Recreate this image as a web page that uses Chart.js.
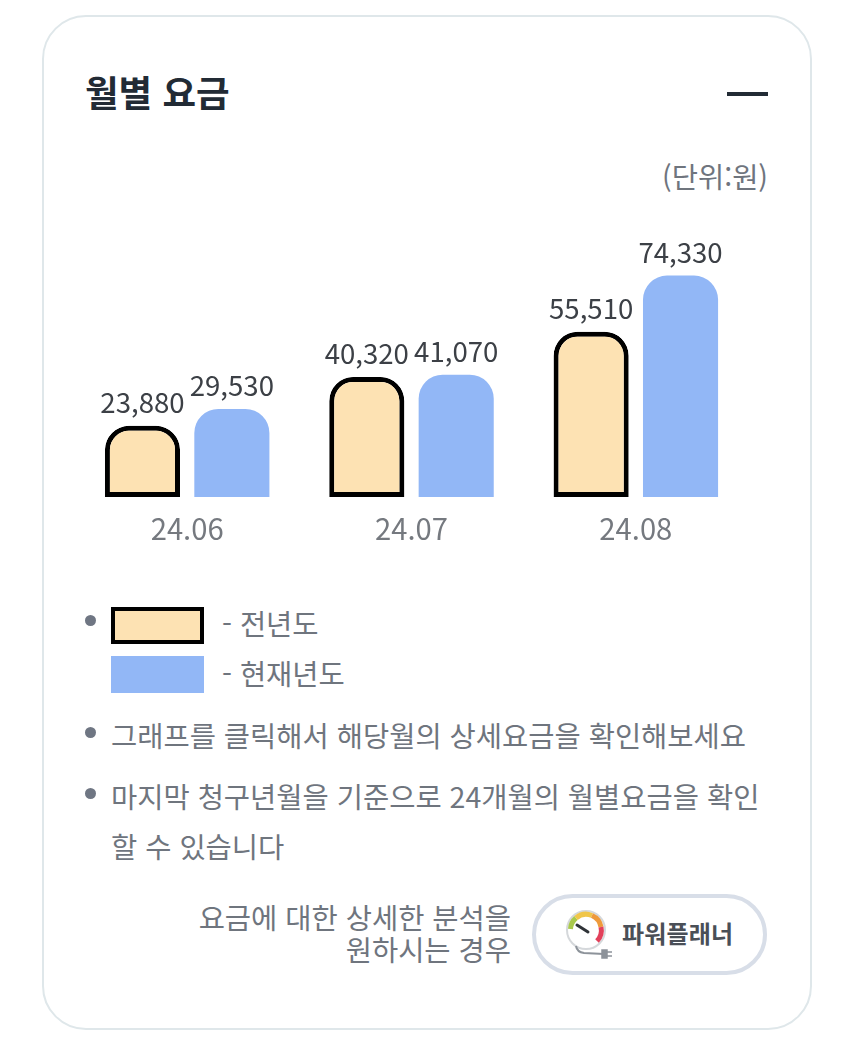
<!DOCTYPE html>
<html lang="ko"><head><meta charset="utf-8">
<script src="https://cdn.jsdelivr.net/npm/chart.js@4"></script>
<style>
html,body{margin:0;padding:0;background:#fff;width:850px;height:1050px;overflow:hidden}
body{font-family:"Noto Sans CJK KR","Noto Sans",sans-serif;position:relative;color:#6f757e}
.a{position:absolute;white-space:nowrap}
#card{left:42px;top:15px;width:766px;height:1011px;border:2px solid #dfe7ea;border-radius:44px;box-sizing:content-box}
.dot{position:absolute;width:11px;height:11px;border-radius:50%;background:#6f7683}
.t{font-size:28.5px;line-height:36px}
</style></head><body>
<div class="a" id="card"></div>
<div class="a" style="left:85px;top:67px;font-size:36.5px;line-height:50px;font-weight:700;color:#222b35">월별 요금</div>
<div class="a" style="left:727px;top:92px;width:41px;height:4px;background:#222b35"></div>
<div class="a" style="right:82px;top:158px;font-size:28.5px;line-height:36px">(단위:원)</div>
<div class="a" style="left:75px;top:220px"><canvas id="c" width="673" height="340" style="display:block;width:673px;height:340px"></canvas></div>
<div class="dot" style="left:85px;top:615px"></div>
<div class="a" style="left:111px;top:607px;width:93px;height:37px;box-sizing:border-box;border:4px solid #000;background:#fde2b3"></div>
<div class="a t" style="left:222px;top:605px">- 전년도</div>
<div class="a" style="left:111px;top:656px;width:93px;height:37px;background:#92b7f6"></div>
<div class="a t" style="left:222px;top:655px">- 현재년도</div>
<div class="dot" style="left:85px;top:727px"></div>
<div class="a t" style="left:111px;top:717px">그래프를 클릭해서 해당월의 상세요금을 확인해보세요</div>
<div class="dot" style="left:85px;top:788px"></div>
<div class="a t" style="left:111px;top:778px">마지막 청구년월을 기준으로 24개월의 월별요금을 확인</div>
<div class="a t" style="left:111px;top:828px">할 수 있습니다</div>
<div class="a" style="right:339px;top:901px;font-size:28.5px;line-height:32px;text-align:right;color:#6f757e">요금에 대한 상세한 분석을<br>원하시는 경우</div>
<div class="a" style="left:532px;top:894px;width:235px;height:81px;box-sizing:border-box;border:4px solid #d8dee8;border-radius:41px;background:#fff"></div>
<svg class="a" style="left:564px;top:908px" width="52" height="56" viewBox="0 0 52 56">
<circle cx="22" cy="22" r="19" fill="#fff" stroke="#d5d8db" stroke-width="2"/>
<path d="M6.5 21A15.5 15.5 0 0 1 12 10" fill="none" stroke="#a9c94c" stroke-width="5"/>
<path d="M12 10A15.5 15.5 0 0 1 28 7.5" fill="none" stroke="#f0c64a" stroke-width="5"/>
<path d="M28 7.5A15.5 15.5 0 0 1 37 19" fill="none" stroke="#ee9a3c" stroke-width="5"/>
<path d="M37 19A15.5 15.5 0 0 1 33 33" fill="none" stroke="#e2405a" stroke-width="5"/>
<path d="M13 17L24 24" stroke="#2f3338" stroke-width="3" stroke-linecap="round"/>
<path d="M12 38Q13 44 20 45L40 46" fill="none" stroke="#8d939a" stroke-width="2"/>
<path d="M38 42h5v8h-5zM43 44h5M43 48h5" fill="#8d939a" stroke="#8d939a" stroke-width="1.5"/>
</svg>
<div class="a" style="left:622px;top:916px;font-size:24px;line-height:34px;font-weight:700;color:#4a4f57;letter-spacing:.2px">파워플래너</div>
<script>
const categories = ["24.06", "24.07", "24.08"];
const prevYear = [23880, 40320, 55510];
const currYear = [29530, 41070, 74330];
const labelsPlugin = {
  id: "valueLabels",
  afterDatasetsDraw(chart) {
    const ctx = chart.ctx;
    ctx.save();
    ctx.font = '27.6px "Noto Sans CJK KR","Noto Sans",sans-serif';
    ctx.fillStyle = "#3c4046";
    ctx.textAlign = "center";
    ctx.textBaseline = "alphabetic";
    chart.data.datasets.forEach((ds, di) => {
      chart.getDatasetMeta(di).data.forEach((bar, i) => {
        ctx.fillText(ds.data[i].toLocaleString("en-US"), bar.x, bar.y - 13);
      });
    });
    ctx.restore();
  }
};
new Chart(document.getElementById("c"), {
  type: "bar",
  data: {
    labels: categories,
    datasets: [
      { label: "전년도", data: prevYear, backgroundColor: "#fde2b3", borderColor: "#000", borderWidth: 5,
        borderSkipped: false, borderRadius: { topLeft: 24, topRight: 24, bottomLeft: 0, bottomRight: 0 } },
      { label: "현재년도", data: currYear, backgroundColor: "#92b7f6", borderWidth: 0,
        borderRadius: { topLeft: 24, topRight: 24, bottomLeft: 0, bottomRight: 0 } }
    ]
  },
  plugins: [labelsPlugin],
  options: {
    responsive: false, animation: false, devicePixelRatio: 1,
    layout: { padding: 0 },
    categoryPercentage: 0.797, barPercentage: 0.84,
    plugins: { legend: { display: false }, tooltip: { enabled: false } },
    scales: {
      y: { display: false, min: 0, max: 93000 },
      x: {
        grid: { display: false }, border: { display: false },
        afterFit(s) { s.height = 63; },
        ticks: { padding: 6, color: "#75797f", maxRotation: 0, font: { size: 29.2, family: '"Noto Sans CJK KR","Noto Sans",sans-serif' } }
      }
    }
  }
});
</script>
</body></html>
